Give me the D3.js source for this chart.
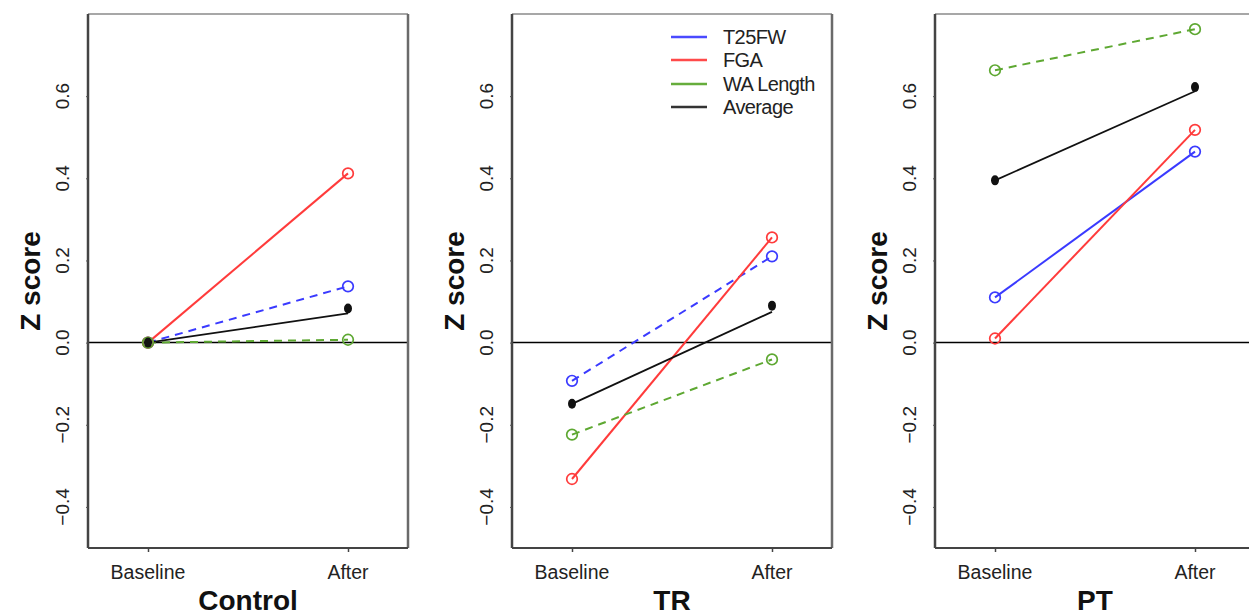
<!DOCTYPE html>
<html>
<head>
<meta charset="utf-8">
<script src="https://cdn.jsdelivr.net/npm/d3@7"></script>
<style>
  html, body { margin: 0; padding: 0; background: #fff; }
  svg { display: block; font-family: "Liberation Sans", Arial, sans-serif; }
</style>
</head>
<body>
<svg id="chart" width="1249" height="616"></svg>
<script>
// ---- data ----
const groups = ["Control", "TR", "PT"];
const timepoints = ["Baseline", "After"];
const seriesNames = ["T25FW", "FGA", "WA Length", "Average"];
const yTicks = [-0.4, -0.2, 0.0, 0.2, 0.4, 0.6];

// values per group: [Baseline, After]
const t25fw    = [[0.000, 0.137], [-0.093, 0.210], [0.110, 0.465]];
const fga      = [[0.000, 0.412], [-0.332, 0.256], [0.010, 0.518]];
const waLength = [[0.000, 0.007], [-0.224, -0.041], [0.663, 0.763]];
const average  = [[0.000, 0.071], [-0.149, 0.075], [0.395, 0.612]];
const averageDots = [[0.000, 0.083], [-0.149, 0.090], [0.395, 0.622]];

// line type per group (dashed or solid)
const t25fwDashed    = [true, true, false];
const fgaDashed      = [false, false, false];
const waLengthDashed = [true, true, true];
const averageDashed  = [false, false, false];

// ---- styling ----
const colors = ["#3a3aff", "#ff3b3b", "#5ea832", "#111111"];
const legendColors = ["#4a4aff", "#ff4a4a", "#66ad3c", "#333333"];

const svg = d3.select("#chart");
const panelLefts = [88, 512, 935];
const panelW = 320;
const plotTop = 14, plotBottom = 548;

const x = d3.scaleLinear().domain([0.7, 2.3]).range([0, panelW]);
const y = d3.scaleLinear().domain([-0.5, 0.8]).range([plotBottom, plotTop]);

const allSeries = [
  { vals: t25fw, dashed: t25fwDashed, open: true },
  { vals: fga, dashed: fgaDashed, open: true },
  { vals: waLength, dashed: waLengthDashed, open: true },
  { vals: average, dashed: averageDashed, open: false, dots: averageDots }
];

const fmt = v => (v < 0 ? "\u2212" : "") + Math.abs(v).toFixed(1);

groups.forEach((g, gi) => {
  const p = svg.append("g").attr("transform", `translate(${panelLefts[gi]},0)`);

  const clipId = "clip" + gi;
  p.append("clipPath").attr("id", clipId)
    .append("rect").attr("x", 0).attr("y", plotTop).attr("width", panelW).attr("height", plotBottom - plotTop);

  // zero line
  p.append("line")
    .attr("x1", 0).attr("x2", panelW)
    .attr("y1", y(0)).attr("y2", y(0))
    .attr("stroke", "#000").attr("stroke-width", 1.5);

  const plot = p.append("g").attr("clip-path", `url(#${clipId})`);

  allSeries.forEach((s, si) => {
    const v = s.vals[gi];
    const line = d3.line().x((d, i) => x(i + 1)).y(d => y(d));
    plot.append("path")
      .attr("d", line(v))
      .attr("fill", "none")
      .attr("stroke", colors[si])
      .attr("stroke-width", si === 3 ? 1.8 : 2)
      .attr("stroke-dasharray", s.dashed[gi] ? "8,6" : null);
  });
  allSeries.forEach((s, si) => {
    if (s.open) {
      const v = s.vals[gi];
      plot.selectAll(null).data(v).enter().append("circle")
        .attr("cx", (d, i) => x(i + 1)).attr("cy", d => y(d))
        .attr("r", 5.3)
        .attr("fill", "none")
        .attr("stroke", colors[si]).attr("stroke-width", 1.7);
    } else {
      plot.selectAll(null).data(s.dots[gi]).enter().append("ellipse")
        .attr("cx", (d, i) => x(i + 1)).attr("cy", d => y(d))
        .attr("rx", 4).attr("ry", 5)
        .attr("fill", colors[si]);
    }
  });

  // box
  p.append("line").attr("x1", 0).attr("x2", panelW).attr("y1", plotTop).attr("y2", plotTop)
    .attr("stroke", "#8a8a8a").attr("stroke-width", 1.5);
  p.append("line").attr("x1", panelW).attr("x2", panelW).attr("y1", plotTop).attr("y2", plotBottom)
    .attr("stroke", "#6a6a6a").attr("stroke-width", 2.5);
  p.append("line").attr("x1", 0).attr("x2", 0).attr("y1", plotTop).attr("y2", plotBottom)
    .attr("stroke", "#444").attr("stroke-width", 2.5);
  p.append("line").attr("x1", 0).attr("x2", panelW).attr("y1", plotBottom).attr("y2", plotBottom)
    .attr("stroke", "#444").attr("stroke-width", 2.2);

  // y axis
  const yAxis = p.append("g")
    .call(d3.axisLeft(y).tickValues(yTicks).tickSize(2).tickFormat(""));
  yAxis.select(".domain").remove();
  yAxis.selectAll(".tick line").attr("stroke", "#555");
  p.selectAll(null).data(yTicks).enter().append("text")
    .attr("transform", d => `translate(${-26},${y(d)}) rotate(-90)`)
    .attr("text-anchor", "middle")
    .attr("dy", "0.36em")
    .attr("font-size", 19)
    .attr("fill", "#222")
    .text(fmt);

  // y title
  p.append("text")
    .attr("transform", `translate(${-58},${(plotTop + plotBottom) / 2}) rotate(-90)`)
    .attr("text-anchor", "middle")
    .attr("dy", "0.36em")
    .attr("font-size", 28)
    .attr("font-weight", "bold")
    .attr("fill", "#111")
    .text("Z score");

  // x axis
  const xAxis = p.append("g").attr("transform", `translate(0,${plotBottom})`)
    .call(d3.axisBottom(x).tickValues([1, 2]).tickSize(4).tickFormat(""));
  xAxis.select(".domain").remove();
  xAxis.selectAll(".tick line").attr("stroke", "#444").attr("stroke-width", 1.5);
  p.selectAll(null).data(timepoints).enter().append("text")
    .attr("x", (d, i) => x(i + 1))
    .attr("y", 579)
    .attr("text-anchor", "middle")
    .attr("font-size", 19.5)
    .attr("fill", "#222")
    .text(d => d);

  // group title
  p.append("text")
    .attr("x", panelW / 2)
    .attr("y", 610)
    .attr("text-anchor", "middle")
    .attr("font-size", 28)
    .attr("font-weight", "bold")
    .attr("fill", "#111")
    .text(g);

  // legend in TR panel
  if (gi === 1) {
    const lg = p.append("g").attr("transform", `translate(${671 - panelLefts[1]},0)`);
    const rowsY = [37, 60, 84, 107];
    seriesNames.forEach((n, i) => {
      lg.append("line").attr("x1", 0).attr("x2", 36)
        .attr("y1", rowsY[i]).attr("y2", rowsY[i])
        .attr("stroke", legendColors[i]).attr("stroke-width", 2.5);
      lg.append("text").attr("x", 52).attr("y", rowsY[i])
        .attr("dy", "0.36em")
        .attr("font-size", 20)
        .attr("letter-spacing", -0.6)
        .attr("fill", "#222")
        .text(n);
    });
  }
});
</script>
</body>
</html>
